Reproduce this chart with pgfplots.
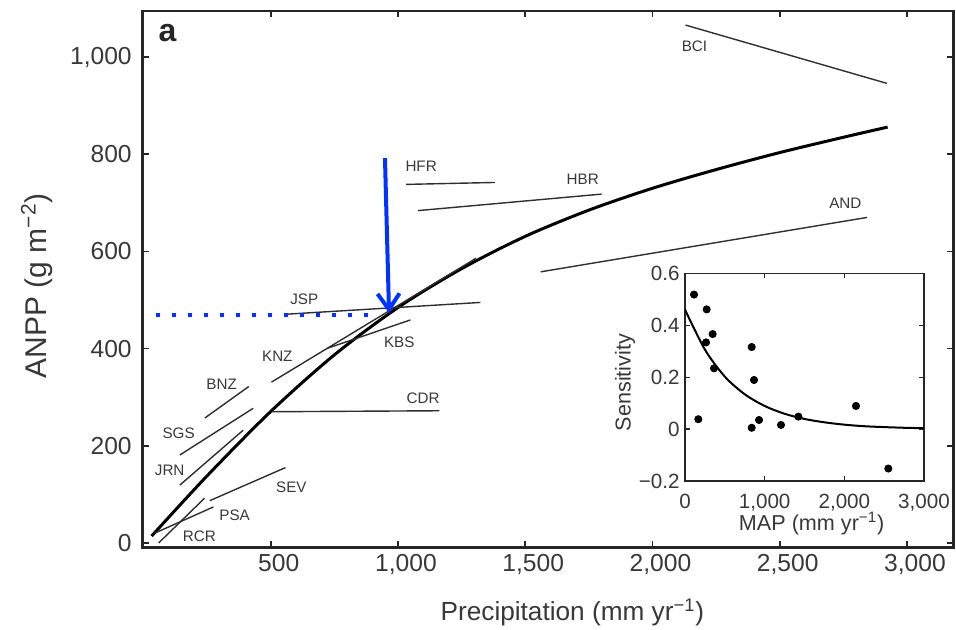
\documentclass[border=0pt]{standalone}
\usepackage{fontspec}
\setmainfont{Liberation Sans}
\usepackage{pgfplots}
\pgfplotsset{compat=1.18}
\usetikzlibrary{arrows.meta}
\definecolor{arrowblue}{RGB}{0,51,255}
\definecolor{txt}{gray}{0.22}
\definecolor{site}{gray}{0.18}
\begin{document}
\begin{tikzpicture}
\useasboundingbox (0,0) rectangle (478pt,315pt);
\begin{axis}[
  at={(71.35pt,41.25pt)}, anchor=south west, scale only axis,
  width=405.4pt, height=268.25pt,
  xmin=-3, xmax=3183, ymin=-9.5, ymax=1095,
  axis line style={line width=1.4pt, black!85},
  tick align=inside, major tick length=3.2pt,
  tick style={line width=0.8pt, black!85},
  xtick={500,1000,1500,2000,2500,3000},
  xticklabels={500,{1,000},{1,500},{2,000},{2,500},{3,000}},
  ytick={0,200,400,600,800,1000},
  yticklabels={0,200,400,600,800,{1,000}},
  /pgf/number format/assume math mode=true,
  ticklabel style={font=\fontsize{12.3}{14}\selectfont, text=txt},
  xticklabel style={xshift=4pt},
  yticklabel style={xshift=-2pt},
  xlabel={Precipitation (mm yr\textsuperscript{−1})},
  ylabel={ANPP (g m\textsuperscript{−2})},
  xlabel style={font=\fontsize{13.1}{15}\selectfont, text=txt, at={(axis description cs:0.530,-0.1364)}, anchor=base},
  ylabel style={font=\fontsize{15}{18}\selectfont, text=txt, at={(axis description cs:-0.1307,0.488)}, anchor=center},
  clip=false,
]
% main fitted curve
\addplot[black, line width=1.5pt, smooth] coordinates {
 (32,14) (250,138) (500,270.5) (750,387) (1000,484.5) (1250,564.5) (1500,631)
 (1750,685) (2000,730) (2250,768.5) (2500,803.5) (2750,835) (2924,856)};
% site regression lines
\addplot[site, line width=0.7pt] coordinates {(2130,1066) (2921,946)};
\addplot[site, line width=0.7pt] coordinates {(1561,558) (2843,670)};
\addplot[site, line width=0.7pt] coordinates {(1078,684) (1800,718)};
\addplot[site, line width=0.7pt] coordinates {(1032,738) (1381,742)};
\addplot[site, line width=0.7pt] coordinates {(568,471) (1324,495)};
\addplot[site, line width=0.7pt] coordinates {(725,401) (1049,459)};
\addplot[site, line width=0.7pt] coordinates {(503,331) (1307,586)};
\addplot[site, line width=0.7pt] coordinates {(241,257) (414,322)};
\addplot[site, line width=0.7pt] coordinates {(143,181) (431,277)};
\addplot[site, line width=0.7pt] coordinates {(143,119) (392,232)};
\addplot[site, line width=0.7pt] coordinates {(503,270) (1163,272)};
\addplot[site, line width=0.7pt] coordinates {(261,87) (558,155)};
\addplot[site, line width=0.7pt] coordinates {(44,20) (275,74)};
\addplot[site, line width=0.7pt] coordinates {(60,0) (240,92)};
% site labels
\begin{scope}[every node/.style={font=\fontsize{7.6}{9}\selectfont, text=txt}]
\node at (axis cs:2165,1023) {BCI};
\node at (axis cs:2758,700) {AND};
\node at (axis cs:1726,749) {HBR};
\node at (axis cs:1091,776) {HFR};
\node at (axis cs:632,502) {JSP};
\node at (axis cs:1005,412) {KBS};
\node at (axis cs:526,385) {KNZ};
\node at (axis cs:307,327) {BNZ};
\node at (axis cs:138,226) {SGS};
\node at (axis cs:103,150) {JRN};
\node at (axis cs:1099,298) {CDR};
\node at (axis cs:581,115) {SEV};
\node at (axis cs:358,57) {PSA};
\node at (axis cs:220,14) {RCR};
\end{scope}
% blue annotation
\addplot[arrowblue, line width=2pt, line cap=butt, dash pattern=on 2pt off 6pt] coordinates {(50,469) (922,469)};
\addplot[arrowblue, line width=2pt, -{Straight Barb[length=8pt,width=11pt]}] coordinates {(949,792) (965,473)};
% panel letter
\node[font=\bfseries\fontsize{16}{18}\selectfont, text=black!85] at (axis cs:95,1049) {a};
\end{axis}

% inset
\begin{axis}[
  at={(342.5pt,74.5pt)}, anchor=south west, scale only axis,
  width=119.5pt, height=103.85pt,
  xmin=0, xmax=3000, ymin=-0.2, ymax=0.6,
  axis background/.style={fill=white},
  axis line style={line width=0.75pt, black!85},
  tick align=inside, major tick length=2.5pt,
  tick style={line width=0.6pt, black!85},
  xtick={0,1000,2000,3000},
  xticklabels={0,{1,000},{2,000},{3,000}},
  ytick={-0.2,0,0.2,0.4,0.6},
  yticklabels={−0.2,0,0.2,0.4,0.6},
  /pgf/number format/assume math mode=true,
  ticklabel style={font=\fontsize{10.3}{12}\selectfont, text=txt},
  xticklabel style={yshift=-3pt},
  yticklabel style={xshift=0.8pt},
  xlabel={MAP (mm yr\textsuperscript{−1})},
  ylabel={Sensitivity},
  xlabel style={font=\fontsize{10.8}{13}\selectfont, text=txt, at={(axis description cs:0.53,-0.204)}, anchor=center},
  ylabel style={font=\fontsize{10.8}{13}\selectfont, text=txt, at={(axis description cs:-0.251,0.474)}, anchor=center},
]
\addplot[black, line width=1pt, smooth] coordinates {
 (0,0.460) (250,0.306) (500,0.202) (750,0.134) (1000,0.089) (1250,0.059)
 (1500,0.039) (1750,0.026) (2000,0.017) (2250,0.011) (2500,0.0076)
 (2750,0.005) (3000,0.0034)};
\addplot[only marks, mark=*, mark size=1.8pt, black] coordinates {
 (113,0.518) (167,0.038) (272,0.461) (264,0.334) (347,0.366) (364,0.234)
 (837,0.316) (866,0.189) (837,0.005) (929,0.035) (1205,0.016) (1423,0.048)
 (2146,0.089) (2552,-0.152)};
\end{axis}
\end{tikzpicture}
\end{document}
